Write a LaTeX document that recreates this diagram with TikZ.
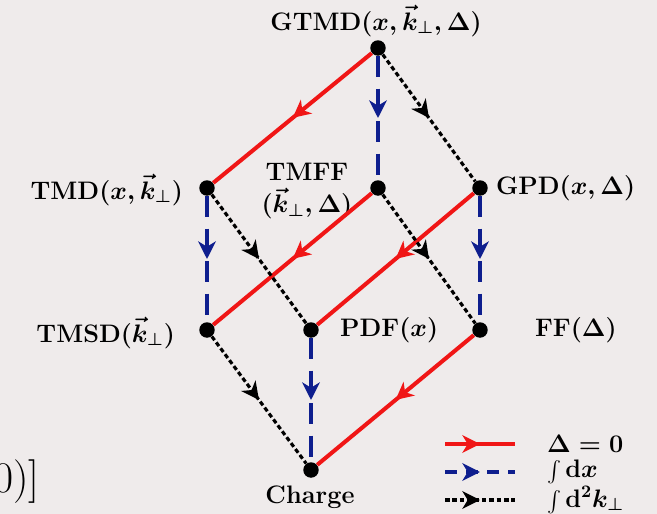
\documentclass[tikz,border=0pt]{standalone}
\usepackage{amsmath}
\usepackage{amssymb}
\usepackage{xcolor}
\usepackage{tikz}
\usetikzlibrary{arrows.meta, positioning, decorations.markings}

\definecolor{bgpink}{HTML}{EFEBEB}
\definecolor{deltared}{HTML}{F01616}
\definecolor{intblue}{HTML}{0E1E8E}

\begin{document}
\begin{tikzpicture}[
  x=0.02cm, y=-0.02cm,
  dot/.style={circle, fill=black, inner sep=0pt, minimum size=0.31cm},
  lbl/.style={font=\Large\bfseries\boldmath, inner sep=1pt},
  midtip/.style={postaction={decorate}, decoration={markings, mark=at position 0.5 with {\arrow{Stealth[length=10pt, width=10pt, inset=3pt]}}}},
  redarrow/.style={midtip, line width=2.3pt, color=deltared},
  bluearrow/.style={midtip, line width=2.3pt, color=intblue, dash pattern=on 12pt off 6.5pt},
  blackarrow/.style={midtip, line width=1.8pt, color=black, dash pattern=on 2.6pt off 1.6pt}
]

% --- Background ---
\fill[bgpink] (0,0) rectangle (657,514);
\useasboundingbox (0,0) rectangle (657,514);

% --- Lattice points ---
\node[dot] (gtmd)   at (378, 48)  {};
\node[dot] (tmd)    at (207, 188) {};
\node[dot] (tmff)   at (378, 188) {};
\node[dot] (gpd)    at (480, 188) {};
\node[dot] (tmsd)   at (207, 330) {};
\node[dot] (pdf)    at (311, 330) {};
\node[dot] (ff)     at (480, 330) {};
\node[dot] (charge) at (311, 470) {};

% --- Labels ---
\node[lbl] (gtmdlbl) at (376, 21) {GTMD$(x,\vec{k}_\perp,\Delta)$};
\node[lbl, anchor=east] (tmdlbl) at (185, 190) {TMD$(x,\vec{k}_\perp)$};
\node[lbl, align=center, inner sep=0pt] (tmfflbl) at (307, 191) {TMFF\\$(\vec{k}_\perp,\Delta)$};
\node[lbl, anchor=west] (gpdlbl) at (494, 188) {GPD$(x,\Delta)$};
\node[lbl, anchor=east] (tmsdlbl) at (177, 333) {TMSD$(\vec{k}_\perp)$};
\node[lbl, anchor=west] (pdflbl) at (338, 330) {PDF$(x)$};
\node[lbl, anchor=west] (fflbl) at (533, 330) {FF$(\Delta)$};
\node[font=\Large\bfseries, inner sep=1pt] (chargelbl) at (310, 497) {Charge};

% --- Delta = 0 ---
\draw[redarrow] (gtmd) -- (tmd);
\draw[redarrow] (tmff) -- (tmsd);
\draw[redarrow] (gpd) -- (pdf);
\draw[redarrow] (ff) -- (charge);

% --- Integral over x ---
\draw[bluearrow] (gtmd) -- (tmff);
\draw[bluearrow] (tmd) -- (tmsd);
\draw[bluearrow] (gpd) -- (ff);
\draw[bluearrow] (pdf) -- (charge);

% --- Integral over k_perp ---
\draw[blackarrow] (gtmd) -- (gpd);
\draw[blackarrow] (tmd) -- (pdf);
\draw[blackarrow] (tmff) -- (ff);
\draw[blackarrow] (tmsd) -- (charge);

% --- Legend ---
\coordinate (ra) at (445, 444); \coordinate (rb) at (515, 444);
\coordinate (ba) at (445, 472); \coordinate (bb) at (515, 472);
\coordinate (ka) at (445, 500); \coordinate (kb) at (515, 500);
\draw[redarrow] (ra) -- (rb);
\draw[bluearrow, dash pattern=on 7pt off 5pt] (ba) -- (bb);
\draw[blackarrow] (ka) -- (kb);
\node[lbl, anchor=west] (redtxt) at (545, 444) {$\Delta=0$};
\node[lbl, anchor=west] (bluetxt) at (545, 472) {{\large$\int$}\,$\mathrm{d}x$};
\node[lbl, anchor=west] (blacktxt) at (545, 500) {{\large$\int$}\,$\mathrm{d}^2k_\perp$};

% --- Cut-off fragment at left ---
\node[font=\Huge, anchor=east, inner sep=0pt] (frag) at (40, 482) {0)]};

\end{tikzpicture}
\end{document}
